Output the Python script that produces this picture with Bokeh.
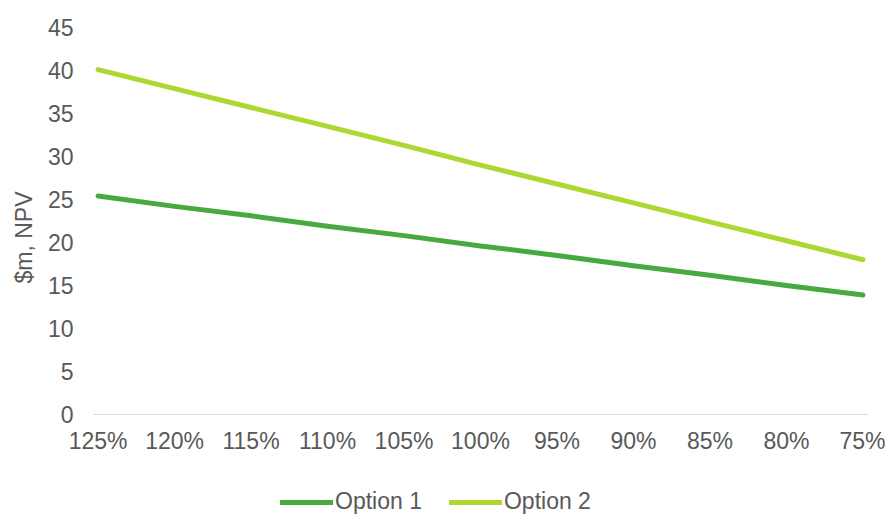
from bokeh.embed import file_html
from bokeh.layouts import column
from bokeh.models import (ColumnDataSource, FixedTicker, Legend, LegendItem,
                          Range1d, Title)
from bokeh.plotting import figure
from bokeh.resources import INLINE

# Sensitivity of NPV to the price scenario
scenarios = ["125%", "120%", "115%", "110%", "105%", "100%",
             "95%", "90%", "85%", "80%", "75%"]
option_1 = [25.4, 24.2, 23.1, 21.9, 20.8, 19.6, 18.5, 17.3, 16.2, 15.0, 13.9]
option_2 = [40.1, 37.9, 35.7, 33.5, 31.3, 29.0, 26.8, 24.6, 22.4, 20.2, 18.0]
y_ticks = [0, 5, 10, 15, 20, 25, 30, 35, 40, 45]
series_names = ["Option 1", "Option 2"]

FONT = "Liberation Sans"
GREY = "#595959"
COLORS = ["#48A93F", "#AAD932"]
COLUMNS = ["opt1", "opt2"]

positions = list(range(len(scenarios)))
source = ColumnDataSource(dict(x=positions, opt1=option_1, opt2=option_2))

p = figure(
    width=885, height=480,
    output_backend="svg", toolbar_location=None,
    x_range=Range1d(-0.06, len(scenarios) - 1 + 0.06),
    y_range=Range1d(0, 45),
    min_border_left=93, min_border_right=18,
    min_border_top=27, min_border_bottom=66,
    background_fill_color="white", border_fill_color="white",
    outline_line_color=None,
)
p.grid.visible = False

for col, color in zip(COLUMNS, COLORS):
    p.line("x", col, source=source, line_color=color, line_width=5,
           line_cap="round", line_join="round")

# x axis: scenario labels on a light baseline, no ticks
xa = p.xaxis[0]
xa.ticker = FixedTicker(ticks=positions)
xa.major_label_overrides = {i: s for i, s in zip(positions, scenarios)}
xa.axis_line_color = "#D9D9D9"
xa.axis_line_width = 1
xa.major_tick_line_color = None
xa.minor_tick_line_color = None
xa.major_label_text_font = FONT
xa.major_label_text_font_size = "23px"
xa.major_label_text_color = GREY
xa.major_label_standoff = 7

# y axis: values only, no line or ticks
ya = p.yaxis[0]
ya.ticker = FixedTicker(ticks=y_ticks)
ya.axis_line_color = None
ya.major_tick_line_color = None
ya.minor_tick_line_color = None
ya.major_label_text_font = FONT
ya.major_label_text_font_size = "23px"
ya.major_label_text_color = GREY
ya.major_label_standoff = 14

# vertical axis title, set a little below the middle of the plot
p.add_layout(Title(
    text="$m, NPV", align="left", offset=131, standoff=15,
    text_font=FONT, text_font_size="23px", text_font_style="normal",
    text_color=GREY,
), "left")

# legend strip under the chart; its swatch lines fall outside its own ranges
leg = figure(
    width=885, height=35,
    output_backend="svg", toolbar_location=None,
    x_range=Range1d(0, 1), y_range=Range1d(0, 1),
    x_axis_type=None, y_axis_type=None,
    min_border=0, outline_line_color=None,
    background_fill_color="white", border_fill_color="white",
)
leg.grid.visible = False
swatches = [leg.line("x", col, source=source, line_color=color, line_width=5,
                     line_cap="round")
            for col, color in zip(COLUMNS, COLORS)]

legend = Legend(
    items=[LegendItem(label=name, renderers=[r])
           for name, r in zip(series_names, swatches)],
    orientation="horizontal",
    location=(187, 0),
    padding=0, margin=0, spacing=27,
    glyph_width=53, glyph_height=24, label_height=24, label_standoff=2,
    label_text_font=FONT, label_text_font_size="23px", label_text_color=GREY,
    border_line_color=None, background_fill_alpha=0,
)
leg.add_layout(legend)

open("out.html", "w").write(file_html(column(p, leg, spacing=0), INLINE))
